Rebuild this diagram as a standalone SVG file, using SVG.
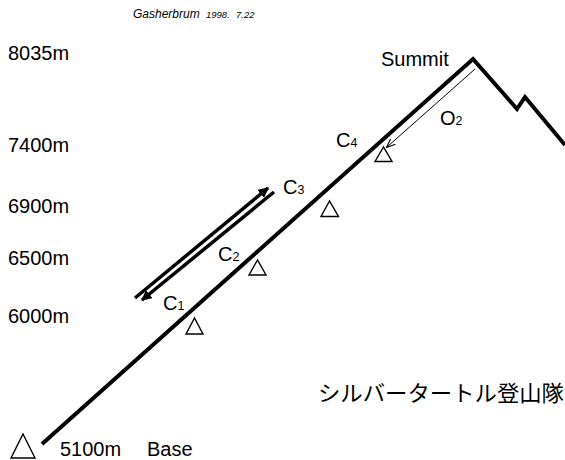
<svg xmlns="http://www.w3.org/2000/svg" width="565" height="460" viewBox="0 0 565 460">
<style>
text{font-family:"Liberation Sans",Arial,sans-serif;fill:#000}
.lbl{font-size:20px}
.sub{font-size:12.5px}
.it{font-style:italic}
.camp{fill:#fff;stroke:#000;stroke-width:1.4;stroke-linejoin:miter}
.ridge{fill:none;stroke:#000;stroke-width:4;stroke-linejoin:miter}
.arr{fill:none;stroke:#000;stroke-width:3.5}
.jp{font-family:"Noto Sans CJK JP","Noto Sans CJK SC",sans-serif;font-size:22px}
</style>
<defs>
<marker id="ah" viewBox="0 0 10 10" refX="9" refY="5" markerWidth="3" markerHeight="3" orient="auto" markerUnits="strokeWidth">
<path d="M0,0 L10,5 L0,10 z" fill="#000"/>
</marker>
<marker id="ah2" viewBox="0 0 10 10" refX="9" refY="5" markerWidth="9" markerHeight="9" orient="auto" markerUnits="strokeWidth">
<path d="M0,1 L10,5 L0,9" fill="none" stroke="#000" stroke-width="1.2"/>
</marker>
</defs>
<g id="title">
<text class="it" x="133" y="18" font-size="12">Gasherbrum</text>
<text class="it" x="206" y="18" font-size="9.5">1998.</text>
<text class="it" x="236" y="18" font-size="9.5">7.22</text>
</g>
<g id="altitudes">
<text class="lbl" x="8" y="60">8035m</text>
<text class="lbl" x="8" y="152">7400m</text>
<text class="lbl" x="8" y="213">6900m</text>
<text class="lbl" x="8" y="265">6500m</text>
<text class="lbl" x="8" y="323">6000m</text>
</g>
<g id="mountain">
<polyline class="ridge" points="42,444 473,59 517,109 525,97 565,145"/>
</g>
<g id="connectors">
<line class="arr" x1="135" y1="298" x2="268" y2="188" marker-end="url(#ah)"/>
<line class="arr" x1="274" y1="192" x2="142" y2="300" marker-end="url(#ah)"/>
<line x1="475" y1="69" x2="387" y2="147" stroke="#000" stroke-width="1" marker-end="url(#ah2)"/>
</g>
<g id="base">
<polygon class="camp" points="23,434 11,458 35,458"/>
<text class="lbl" x="60" y="456">5100m</text>
<text class="lbl" x="147" y="456">Base</text>
</g>
<g id="c1">
<polygon class="camp" points="194.5,318 186,334 203,334"/>
<text class="lbl" x="163" y="310">C<tspan class="sub">1</tspan></text>
</g>
<g id="c2">
<polygon class="camp" points="257.5,260 249,275 266,275"/>
<text class="lbl" x="218" y="261">C<tspan class="sub">2</tspan></text>
</g>
<g id="c3">
<polygon class="camp" points="329.5,201 321,216.5 338.5,216.5"/>
<text class="lbl" x="283" y="194">C<tspan class="sub">3</tspan></text>
</g>
<g id="c4">
<polygon class="camp" points="383.5,147 375,161.5 392,161.5"/>
<text class="lbl" x="336" y="147">C<tspan class="sub">4</tspan></text>
</g>
<g id="summit">
<text class="lbl" x="381" y="66">Summit</text>
<text class="lbl" x="440" y="125">O<tspan class="sub">2</tspan></text>
</g>
<g id="team">
<text class="jp" x="318" y="401" textLength="246" lengthAdjust="spacingAndGlyphs">シルバータートル登山隊</text>
</g>
</svg>
